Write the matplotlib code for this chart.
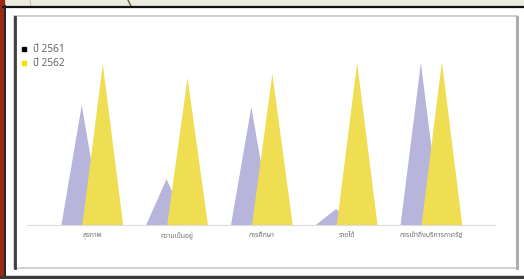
import matplotlib
matplotlib.use("Agg")
import matplotlib.pyplot as plt
from matplotlib.patches import Rectangle
from matplotlib.lines import Line2D

plt.rcParams['font.family'] = ['Noto Sans Thai', 'DejaVu Sans']

categories = ["สุขภาพ", "ความเป็นอยู่", "การศึกษา", "รายได้", "การเข้าถึงบริการภาครัฐ"]
series_names = ["ปี 2561", "ปี 2562"]
vals_2561 = [73.6, 28.2, 72.4, 9.8, 99.4]
vals_2562 = [98.8, 90.2, 92.6, 99.4, 100.0]

purple = "#b8b5dd"
yellow = "#efdd52"

W, H = 524, 279
fig = plt.figure(figsize=(W / 100, H / 100), dpi=100)
fig.patch.set_facecolor("#ecebe0")


def px_rect(x0, y0, x1, y1, **kw):
    # rectangle given in pixel coords from the top-left corner
    r = Rectangle((x0 / W, 1 - y1 / H), (x1 - x0) / W, (y1 - y0) / H,
                  transform=fig.transFigure, **kw)
    fig.patches.append(r)


def px_line(xs, ys, **kw):
    fig.lines.append(Line2D([x / W for x in xs], [1 - y / H for y in ys],
                            transform=fig.transFigure, **kw))


# slide background bits
px_rect(0, 0, 4, 279, color="#9a2a12", zorder=0)
px_line([128, 131], [0, 6], color="#6b5a3a", lw=1, zorder=1)
px_line([30, 31], [0, 6], color="#c8c4b0", lw=0.8, zorder=1)
# outer frame
px_rect(4, 6, 524, 277, facecolor="white", edgecolor="none", zorder=1)
px_line([3, 524], [6.5, 6.5], color="#111111", lw=1.6, zorder=2)
px_line([4.5, 4.5], [6, 277], color="#222222", lw=1.4, zorder=2)
px_rect(0, 276, 524, 279, color="#3a3a3a", zorder=2)
# inner chart panel
px_rect(14, 16, 517, 268, facecolor="white", edgecolor="#c8c8c8", lw=1.2, zorder=2)
px_line([14.5, 14.5], [17, 268], color="#3a3a3a", lw=2.0, zorder=3)
px_line([516.5, 516.5], [17, 268], color="#a8a8a8", lw=2.0, zorder=3)

ax = fig.add_axes([27 / W, (H - 225) / H, 468 / W, 185 / H], zorder=4)
ax.patch.set_alpha(0)

x = list(range(len(categories)))
half = 0.24
offset = 0.124
for i, v in enumerate(vals_2561):
    c = x[i] - offset
    ax.fill([c - half, c, c + half], [0, v, 0], color=purple, lw=0)
for i, v in enumerate(vals_2562):
    c = x[i] + offset
    ax.fill([c - half, c, c + half], [0, v, 0], color=yellow, lw=0)

ax.set_xlim(-0.77, 4.75)
ax.set_ylim(0, 113.5)
ax.set_xticks(x)
ax.set_xticklabels(categories, fontsize=5, color="#707070")
ax.tick_params(axis="x", length=0, pad=5)
ax.set_yticks([])
for s in ["top", "left", "right"]:
    ax.spines[s].set_visible(False)
ax.spines["bottom"].set_color("#dcdcdc")
ax.spines["bottom"].set_linewidth(0.8)

handles = [Line2D([], [], marker="s", ls="none", color="black", markersize=3.5),
           Line2D([], [], marker="s", ls="none", color="#f5e000", markersize=3.5)]
fig.legend(handles, series_names, loc="upper left",
           bbox_to_anchor=(15 / W, 1 - 39 / H), frameon=False, fontsize=7.2,
           labelcolor="#666666", handletextpad=0.5, labelspacing=0.3,
           handlelength=0.8, borderpad=0)

fig.savefig("out.png", dpi=100)
